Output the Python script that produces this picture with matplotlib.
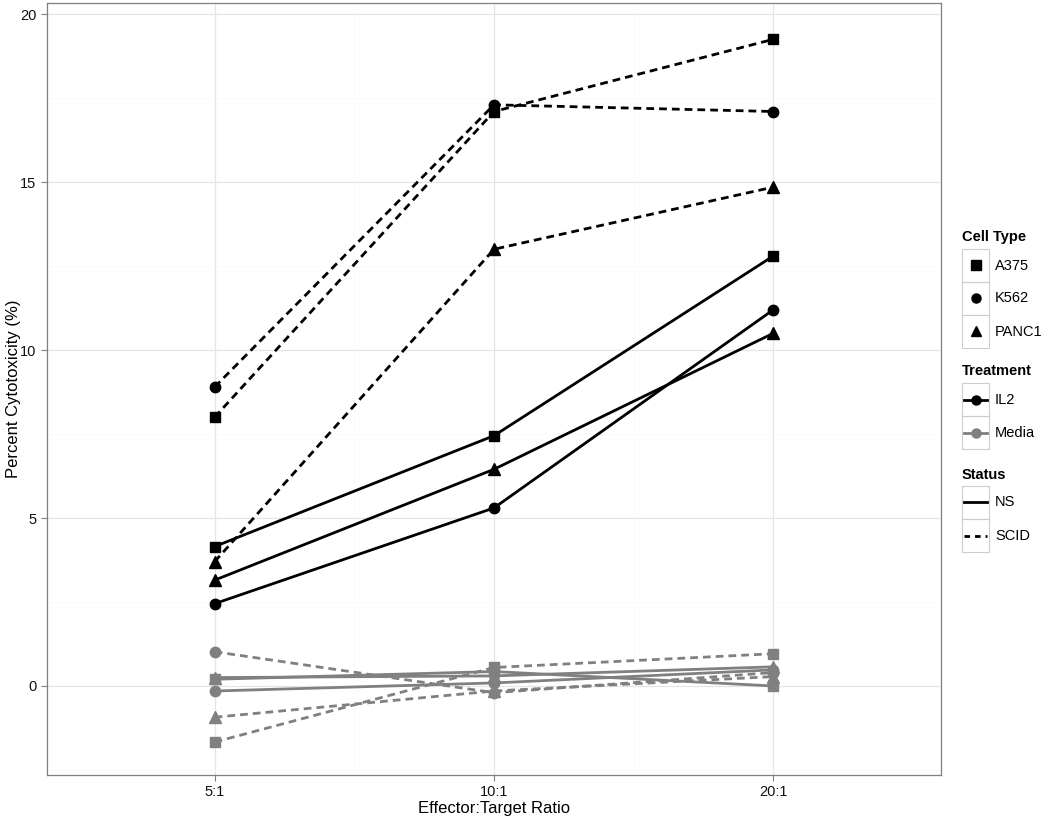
import matplotlib.pyplot as plt
from matplotlib.lines import Line2D
from matplotlib.patches import Rectangle

plt.rcParams['font.family'] = ['Liberation Sans', 'DejaVu Sans']

# data
ratios = ['5:1', '10:1', '20:1']
cell_types = ['A375', 'K562', 'PANC1']
markers = {'A375': 's', 'K562': 'o', 'PANC1': '^'}
treat_colors = {'IL2': 'black', 'Media': '#808080'}
status_styles = {'NS': '-', 'SCID': '--'}

il2_ns = {'A375': [4.15, 7.45, 12.8], 'K562': [2.45, 5.3, 11.2], 'PANC1': [3.15, 6.45, 10.5]}
il2_scid = {'A375': [8.0, 17.1, 19.25], 'K562': [8.9, 17.3, 17.1], 'PANC1': [3.7, 13.0, 14.85]}
media_ns = {'A375': [0.2, 0.43, 0.0], 'K562': [-0.15, 0.09, 0.48], 'PANC1': [0.25, 0.3, 0.57]}
media_scid = {'A375': [-1.67, 0.55, 0.96], 'K562': [1.02, -0.2, 0.4], 'PANC1': [-0.93, -0.15, 0.28]}

series = [('Media', 'NS', media_ns), ('Media', 'SCID', media_scid),
          ('IL2', 'NS', il2_ns), ('IL2', 'SCID', il2_scid)]

fig = plt.figure(figsize=(10.5, 8.22), dpi=100)
ax = fig.add_axes([47/1050, 47/822, 894/1050, 772/822])

xs = [1, 2, 3]
for treat, status, d in series:
    for ct in cell_types:
        ls = status_styles[status]
        line, = ax.plot(xs, d[ct], color=treat_colors[treat], lw=2.0, ls=ls,
                        marker=markers[ct], ms=7.5 if markers[ct] != '^' else 8.5, zorder=3)
        if ls == '--':
            line.set_dashes((2.8, 1.8))

ax.set_xlim(0.4, 3.6)
ax.set_ylim(-2.65, 20.33)
ax.set_xticks(xs)
ax.set_xticklabels(ratios)
ax.set_yticks([0, 5, 10, 15, 20])
ax.set_yticks([-2.5, 2.5, 7.5, 12.5, 17.5], minor=True)
ax.set_xticks([1.5, 2.5], minor=True)
ax.grid(which='major', color='#e5e5e5', lw=0.9, zorder=0)
ax.grid(which='minor', color='#fafafa', lw=0.6, zorder=0)
ax.tick_params(which='minor', length=0)
ax.tick_params(which='major', length=4, color='#7f7f7f', labelsize=10.5, labelcolor='#111111')
for s in ax.spines.values():
    s.set_color('#7f7f7f')
    s.set_linewidth(0.9)
ax.set_xlabel('Effector:Target Ratio', fontsize=12, labelpad=1)
ax.set_ylabel('Percent Cytotoxicity (%)', fontsize=12)
ax.yaxis.set_label_coords(-26/894, 0.5)

# manual ggplot-style legend
W, H = 1050, 822


def fx(px):
    return px / W


def fy(py):
    return 1 - py / H


def key_box(top):
    fig.add_artist(Rectangle((fx(962), fy(top + 33)), 27/W, 33/H, transform=fig.transFigure,
                             fill=False, edgecolor='#cccccc', lw=0.8))


def title(text, y):
    fig.text(fx(962), fy(y), text, fontsize=10.5, fontweight='bold', va='center', ha='left')


def label(text, top):
    fig.text(fx(995), fy(top + 16.5), text, fontsize=10.5, va='center', ha='left')


title('Cell Type', 237)
for i, ct in enumerate(cell_types):
    top = 249 + 33 * i
    key_box(top)
    fig.add_artist(Line2D([fx(975.5)], [fy(top + 16.5)], transform=fig.transFigure, ls='none',
                          marker=markers[ct], color='black', ms=6.5))
    label(ct, top)

title('Treatment', 371)
for i, tr in enumerate(['IL2', 'Media']):
    top = 383 + 33 * i
    key_box(top)
    fig.add_artist(Line2D([fx(964), fx(987)], [fy(top + 16.5)] * 2, transform=fig.transFigure,
                          color=treat_colors[tr], lw=2.0))
    fig.add_artist(Line2D([fx(975.5)], [fy(top + 16.5)], transform=fig.transFigure, ls='none',
                          marker='o', color=treat_colors[tr], ms=6.5))
    label(tr, top)

title('Status', 475)
for i, st in enumerate(['NS', 'SCID']):
    top = 486 + 33 * i
    key_box(top)
    ln = Line2D([fx(964), fx(987)], [fy(top + 16.5)] * 2, transform=fig.transFigure,
                color='black', lw=2.0, ls=status_styles[st])
    if st == 'SCID':
        ln.set_dashes((2.0, 1.8))
    fig.add_artist(ln)
    label(st, top)

fig.savefig('out.png', dpi=100)
